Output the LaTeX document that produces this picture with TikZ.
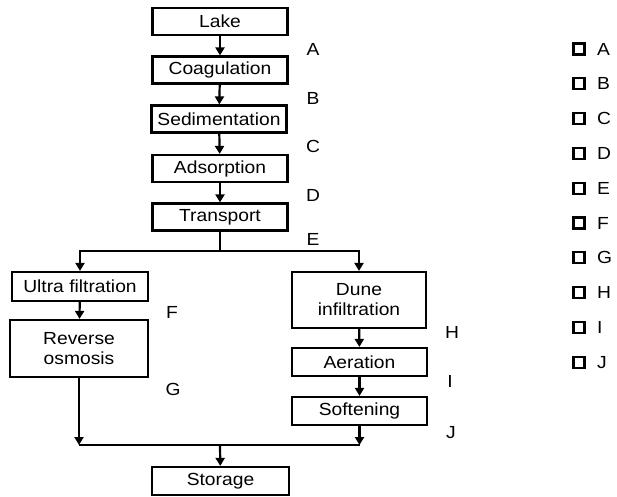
\documentclass[tikz,border=0pt]{standalone}
\usepackage{fontspec}
\setmainfont{Liberation Sans}[FakeStretch=1.1]
\usetikzlibrary{arrows.meta}

\begin{document}
\begin{tikzpicture}[x=1pt, y=-1pt, line width=2.2pt,
        font=\fontsize{17.5}{20}\selectfont,
        stage/.style={draw, rectangle, align=center, inner sep=0pt, minimum width=135, minimum height=27},
        flow/.style={-{Triangle[length=8pt, width=9pt]}},
        tick/.style={draw, rectangle, inner sep=0pt, minimum size=11, line width=2.2pt}]
        \useasboundingbox (0, 0) rectangle (617, 496);

        % Nodes
        \node (lake) [stage] at (220, 21.5) {Lake};
        \node (coag) [stage] at (220, 70) {Coagulation};
        \node (sedim) [stage] at (219, 119) {Sedimentation};
        \node (adsorp) [stage] at (220, 168.5) {Adsorption};
        \node (transport) [stage] at (220, 217) {Transport};
        \node (ultra) [stage, minimum width=136, minimum height=29] at (80, 286.5) {Ultra filtration};
        \node (reverse) [stage, minimum width=138, minimum height=57] at (79, 348.5) {Reverse\\osmosis};
        \node (dune) [stage, minimum width=134, minimum height=56] at (359, 300) {Dune\\infiltration};
        \node (aeration) [stage, minimum height=28] at (359.5, 362) {Aeration};
        \node (soften) [stage, minimum height=28] at (359.5, 411) {Softening};
        \node (storage) [stage, minimum width=137, minimum height=28] at (220.5, 481) {Storage};
        \coordinate (split) at (220, 251);
        \coordinate (merge) at (220, 445);

        % Letters
        \node (labA) at (313, 49) {A};
        \node (labB) at (313, 98) {B};
        \node (labC) at (313, 146) {C};
        \node (labD) at (313, 195) {D};
        \node (labE) at (313, 239) {E};
        \node (labF) at (172, 312) {F};
        \node (labG) at (173, 389) {G};
        \node (labH) at (452, 332) {H};
        \node (labI) at (450, 381) {I};
        \node (labJ) at (451, 433) {J};

        % Edges
        \draw[flow] (lake) -- (coag);
        \draw[flow] (coag) -- (sedim);
        \draw[flow] (sedim) -- (adsorp);
        \draw[flow] (adsorp) -- (transport);
        \draw (transport) -- (split);
        \draw[flow] (split) -| (ultra);
        \draw[flow] (split) -| (dune);
        \draw[flow] (ultra) -- (reverse);
        \draw[flow] (dune) -- (aeration);
        \draw[flow] (aeration) -- (soften);
        \draw[flow] (reverse.south) -- (reverse.south |- merge);
        \draw[flow] (soften.south) -- (soften.south |- merge);
        \draw (reverse.south |- merge) -- (soften.south |- merge);
        \draw[flow] (merge) -- (storage);

        % Answer boxes
        \foreach \l [count=\i from 0] in {A,B,C,D,E,F,G,H,I,J} {
            \node (box\l) [tick] at (579, 49 + 34.8*\i) {};
            \node (ans\l) [anchor=west, inner sep=0pt] at (596, 49 + 34.8*\i) {\l};
        }
    \end{tikzpicture}
\end{document}
